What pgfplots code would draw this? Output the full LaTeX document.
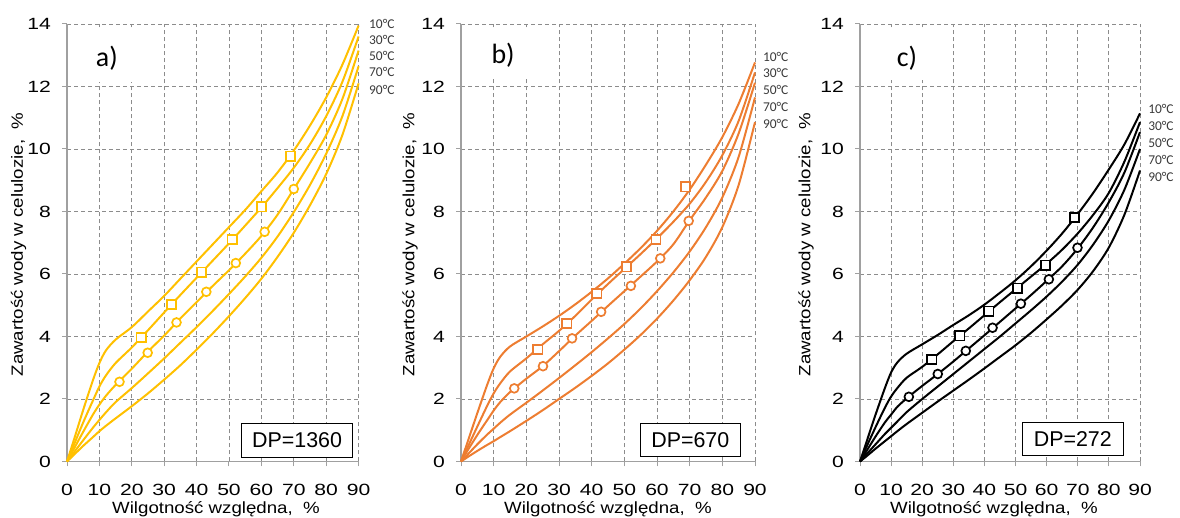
\documentclass[border=0pt]{standalone}
\usepackage{fontspec}
\setmainfont{Liberation Sans}[FakeStretch=1.15]
\newfontfamily\tickfont{Liberation Sans}[FakeStretch=1.3]
\newfontfamily\arialplain{Liberation Sans}
\newfontfamily\calibri{Carlito}
\usepackage{pgfplots}
\pgfplotsset{compat=1.18}

\definecolor{gold}{HTML}{FFC000}
\definecolor{orng}{HTML}{ED7D31}
\definecolor{gridgray}{HTML}{8C8C8C}
\definecolor{axisgray}{HTML}{A0A0A0}
\definecolor{lbl}{HTML}{3A3A3A}

\pgfplotsset{
  panel/.style={
    scale only axis, width=#1, height=437.5bp,
    anchor=south west,
    xmin=0, xmax=90, ymin=0, ymax=14,
    xtick={0,10,...,90}, ytick={0,2,...,14},
    axis x line*=bottom, axis y line*=left,
    axis line style={-, axisgray, line width=1.4bp},
    tick align=outside, major tick length=5bp,
    tick style={axisgray, line width=1bp},
    grid=major,
    major grid style={gridgray, dash pattern=on 4bp off 3bp, line width=0.9bp},
    /pgf/number format/assume math mode=true,
    tick label style={font=\tickfont\fontsize{16.3}{18}\selectfont},
    xticklabel style={anchor=north, inner sep=0pt, yshift=-17bp},
    yticklabel style={anchor=east, inner sep=0pt, xshift=-11bp},
    clip=false,
  },
  curve/.style={smooth, no markers, line width=2bp, #1},
  sq/.style={only marks, mark=square*, mark size=4.6bp,
    mark options={fill=white, draw=#1, line width=1.7bp}},
  ci/.style={only marks, mark=*, mark size=4.4bp,
    mark options={fill=white, draw=#1, line width=1.7bp}},
}

\newcommand\templabels[6]{%
  \node[anchor=west, inner sep=0pt, text=lbl, font=\calibri\fontsize{13.5}{15}\selectfont] at (axis cs:#1,#2) {10°C};
  \node[anchor=west, inner sep=0pt, text=lbl, font=\calibri\fontsize{13.5}{15}\selectfont] at (axis cs:#1,#3) {30°C};
  \node[anchor=west, inner sep=0pt, text=lbl, font=\calibri\fontsize{13.5}{15}\selectfont] at (axis cs:#1,#4) {50°C};
  \node[anchor=west, inner sep=0pt, text=lbl, font=\calibri\fontsize{13.5}{15}\selectfont] at (axis cs:#1,#5) {70°C};
  \node[anchor=west, inner sep=0pt, text=lbl, font=\calibri\fontsize{13.5}{15}\selectfont] at (axis cs:#1,#6) {90°C};
}

\begin{document}
\begin{tikzpicture}
\path[use as bounding box] (0,0) rectangle (1180bp,518bp);

% ---------------- a) DP = 1360 ----------------
\begin{axis}[panel=291.6bp, at={(67bp,56.5bp)}]
\fill[white] (axis cs:4,12.15) rectangle (axis cs:26,13.8);
\node[font=\calibri\fontsize{28}{30}\selectfont] at (axis cs:12.3,12.9) {a)};
% 10 C
\addplot[curve=gold] coordinates {(0,0) (2,0.65) (5,1.65) (8,2.6) (10,3.15) (12,3.55) (15,3.9) (20,4.3) (25,4.8) (30,5.3) (35,5.85) (40,6.4) (45,6.95) (50,7.5) (55,8.05) (60,8.65) (65,9.25) (70,9.95) (75,10.75) (80,11.65) (85,12.7) (90,13.95)};
% 30 C
\addplot[curve=gold] coordinates {(0,0) (2,0.5) (5,1.25) (8,1.95) (10,2.4) (12,2.75) (15,3.15) (20,3.65) (25,4.2) (30,4.77) (35,5.33) (40,5.88) (45,6.43) (50,6.98) (55,7.55) (60,8.13) (65,8.75) (70,9.4) (75,10.15) (80,11.05) (85,12.15) (90,13.6)};
% 50 C
\addplot[curve=gold] coordinates {(0,0) (2,0.38) (5,0.95) (8,1.5) (10,1.82) (12,2.1) (15,2.45) (20,2.97) (25,3.52) (30,4.03) (35,4.58) (40,5.1) (45,5.62) (50,6.12) (55,6.65) (60,7.22) (65,7.9) (70,8.72) (75,9.55) (80,10.45) (85,11.6) (90,13.15)};
% 70 C
\addplot[curve=gold] coordinates {(0,0) (2,0.27) (5,0.68) (8,1.08) (10,1.33) (12,1.57) (15,1.9) (20,2.35) (25,2.82) (30,3.3) (35,3.8) (40,4.3) (45,4.82) (50,5.36) (55,5.92) (60,6.52) (65,7.2) (70,7.98) (75,8.85) (80,9.85) (85,11.05) (90,12.65)};
% 90 C
\addplot[curve=gold] coordinates {(0,0) (2,0.2) (5,0.5) (8,0.78) (10,0.97) (12,1.14) (15,1.38) (20,1.77) (25,2.18) (30,2.62) (35,3.08) (40,3.58) (45,4.1) (50,4.65) (55,5.23) (60,5.85) (65,6.55) (70,7.32) (75,8.2) (80,9.2) (85,10.45) (90,12.1)};
\addplot[sq=gold] coordinates {(22.9,3.97) (32.2,5.03) (41.5,6.06) (51,7.1) (60.1,8.15) (69,9.77)};
\addplot[ci=gold] coordinates {(16.2,2.55) (24.9,3.48) (33.8,4.45) (43,5.43) (52.1,6.35) (61,7.35) (70,8.72)};
\draw[fill=white, line width=1bp] (axis cs:54,0.14) rectangle (axis cs:88,1.2);
\node[font=\arialplain\fontsize{21.5}{24}\selectfont] at (axis cs:71,0.67) {DP=1360};
\templabels{93.2}{14.0}{13.5}{12.99}{12.45}{11.89}
\end{axis}

% ---------------- b) DP = 670 ----------------
\begin{axis}[panel=294bp, at={(461bp,56.5bp)}]
\fill[white] (axis cs:4,12.25) rectangle (axis cs:26,13.8);
\node[font=\calibri\fontsize{28}{30}\selectfont] at (axis cs:12.9,13.0) {b)};
\addplot[curve=orng] coordinates {(0,0) (2,0.62) (5,1.55) (8,2.45) (10,2.98) (12,3.35) (15,3.68) (20,4.0) (25,4.32) (30,4.66) (35,5.03) (40,5.43) (45,5.86) (50,6.33) (55,6.83) (60,7.38) (65,8.0) (70,8.7) (75,9.5) (80,10.38) (85,11.45) (90,12.77)};
\addplot[curve=orng] coordinates {(0,0) (2,0.45) (5,1.12) (8,1.78) (10,2.18) (12,2.5) (15,2.88) (20,3.3) (25,3.75) (30,4.18) (35,4.66) (40,5.18) (45,5.68) (50,6.16) (55,6.64) (60,7.14) (65,7.67) (70,8.25) (75,8.95) (80,9.8) (85,10.9) (90,12.45)};
\addplot[curve=orng] coordinates {(0,0) (2,0.35) (5,0.85) (8,1.32) (10,1.63) (12,1.9) (15,2.22) (20,2.65) (25,3.05) (30,3.53) (35,4.03) (40,4.5) (45,4.98) (50,5.45) (55,5.92) (60,6.4) (65,6.95) (70,7.72) (75,8.45) (80,9.3) (85,10.5) (90,12.12)};
\addplot[curve=orng] coordinates {(0,0) (2,0.22) (5,0.55) (8,0.86) (10,1.05) (12,1.24) (15,1.5) (20,1.88) (25,2.27) (30,2.67) (35,3.08) (40,3.5) (45,3.94) (50,4.4) (55,4.9) (60,5.45) (65,6.05) (70,6.72) (75,7.5) (80,8.45) (85,9.75) (90,11.65)};
\addplot[curve=orng] coordinates {(0,0) (2,0.14) (5,0.34) (8,0.53) (10,0.65) (12,0.78) (15,0.97) (20,1.3) (25,1.64) (30,2.0) (35,2.36) (40,2.74) (45,3.14) (50,3.58) (55,4.05) (60,4.57) (65,5.15) (70,5.8) (75,6.55) (80,7.5) (85,8.85) (90,10.86)};
\addplot[sq=orng] coordinates {(23.5,3.59) (32.4,4.41) (41.6,5.37) (50.6,6.23) (59.7,7.1) (68.8,8.79)};
\addplot[ci=orng] coordinates {(16.3,2.34) (25.1,3.05) (34,3.94) (42.9,4.79) (52,5.62) (61,6.5) (69.7,7.7)};
\draw[fill=white, line width=1bp] (axis cs:54.8,0.15) rectangle (axis cs:85.6,1.2);
\node[font=\arialplain\fontsize{21.5}{24}\selectfont] at (axis cs:70.2,0.67) {DP=670};
\templabels{92.4}{12.95}{12.42}{11.9}{11.36}{10.8}
\end{axis}

% ---------------- c) DP = 272 ----------------
\begin{axis}[panel=280bp, at={(860bp,56.5bp)}]
\fill[white] (axis cs:4,12.2) rectangle (axis cs:27,13.8);
\node[font=\calibri\fontsize{28}{30}\selectfont] at (axis cs:15.1,12.9) {c)};
\addplot[curve=black] coordinates {(0,0) (2,0.6) (5,1.5) (8,2.35) (10,2.85) (12,3.17) (15,3.45) (20,3.75) (25,4.05) (30,4.37) (35,4.68) (40,5.02) (45,5.4) (50,5.8) (55,6.25) (60,6.75) (65,7.3) (70,7.92) (75,8.6) (80,9.35) (85,10.15) (90,11.14)};
\addplot[curve=black] coordinates {(0,0) (2,0.45) (5,1.1) (8,1.72) (10,2.08) (12,2.35) (15,2.68) (20,3.03) (25,3.43) (30,3.85) (35,4.26) (40,4.68) (45,5.1) (50,5.51) (55,5.92) (60,6.33) (65,6.78) (70,7.3) (75,7.9) (80,8.6) (85,9.6) (90,10.86)};
\addplot[curve=black] coordinates {(0,0) (2,0.32) (5,0.8) (8,1.25) (10,1.5) (12,1.75) (15,2.02) (20,2.42) (25,2.8) (30,3.2) (35,3.62) (40,4.04) (45,4.47) (50,4.9) (55,5.33) (60,5.78) (65,6.25) (70,6.82) (75,7.5) (80,8.3) (85,9.25) (90,10.54)};
\addplot[curve=black] coordinates {(0,0) (2,0.22) (5,0.55) (8,0.88) (10,1.08) (12,1.28) (15,1.58) (20,2.0) (25,2.4) (30,2.8) (35,3.2) (40,3.6) (45,4.0) (50,4.42) (55,4.84) (60,5.28) (65,5.76) (70,6.3) (75,6.95) (80,7.72) (85,8.7) (90,10.0)};
\addplot[curve=black] coordinates {(0,0) (2,0.16) (5,0.41) (8,0.65) (10,0.81) (12,0.97) (15,1.2) (20,1.56) (25,1.92) (30,2.27) (35,2.62) (40,2.98) (45,3.35) (50,3.72) (55,4.12) (60,4.55) (65,5.0) (70,5.5) (75,6.1) (80,6.85) (85,7.9) (90,9.31)};
\addplot[sq=black] coordinates {(23.1,3.27) (32.1,4.02) (41.4,4.81) (50.6,5.55) (59.6,6.28) (68.9,7.8)};
\addplot[ci=black] coordinates {(15.7,2.07) (25,2.8) (34,3.54) (42.6,4.28) (51.7,5.05) (60.7,5.83) (69.9,6.84)};
\draw[fill=white, line width=1bp] (axis cs:52.2,0.19) rectangle (axis cs:84.6,1.24);
\node[font=\arialplain\fontsize{21.5}{24}\selectfont] at (axis cs:68.4,0.715) {DP=272};
\templabels{92.6}{11.28}{10.73}{10.2}{9.65}{9.12}
\end{axis}

% axis titles
\foreach \cx/\lx in {216/18.5, 608/410, 994/806} {
  \node[anchor=base, font=\fontsize{16.3}{18}\selectfont] at (\cx bp,4.7bp) {Wilgotność względna,\ \ \%};
  \node[rotate=90, font=\fontsize{16.3}{18}\selectfont] at (\lx bp,273.5bp) {Zawartość wody w celulozie,\ \ \%};
}
\end{tikzpicture}
\end{document}
